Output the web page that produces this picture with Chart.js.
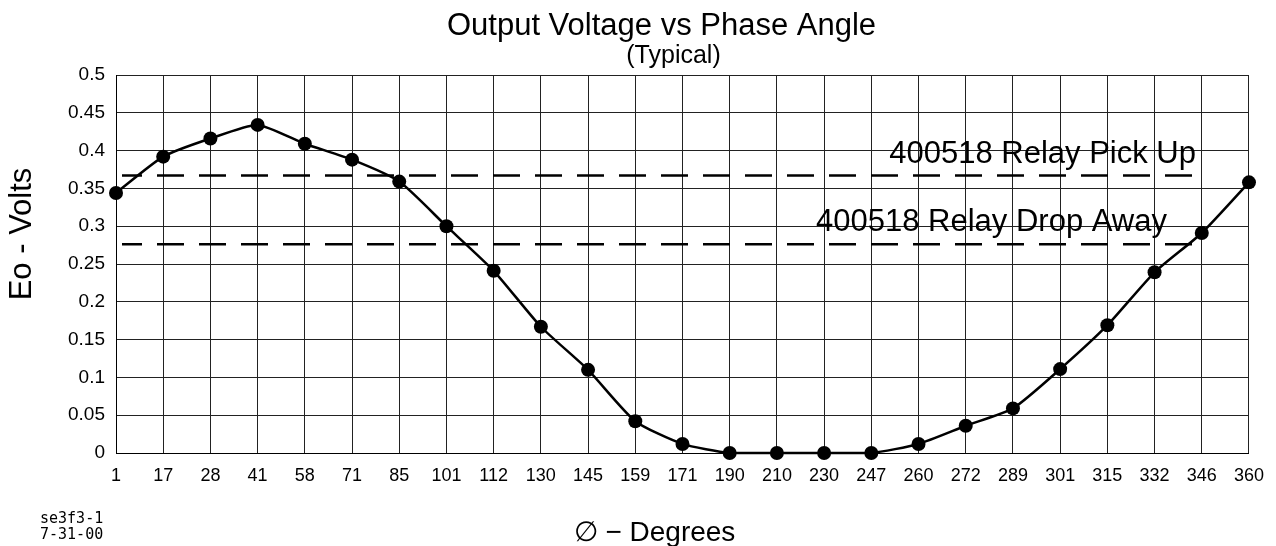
<!DOCTYPE html>
<html><head><meta charset="utf-8">
<script src="https://cdn.jsdelivr.net/npm/chart.js@4.4.0/dist/chart.umd.min.js"></script>
<style>html,body{margin:0;padding:0;background:#fff;} #c{display:block;}</style>
</head><body>
<canvas id="c" width="1276" height="546"></canvas>
<script>
const categories = ['1','17','28','41','58','71','85','101','112','130','145','159','171','190','210','230','247','260','272','289','301','315','332','346','360'];
const voltage = [0.344,0.392,0.416,0.434,0.409,0.388,0.359,0.300,0.241,0.167,0.110,0.042,0.012,0,0,0,0,0.012,0.036,0.059,0.111,0.169,0.239,0.291,0.358];
const yTickLabels = ['0','0.05','0.1','0.15','0.2','0.25','0.3','0.35','0.4','0.45','0.5'];
const thresholdValues = [0.367, 0.276];
const thresholdLabels = ['400518 Relay Pick Up','400518 Relay Drop Away'];
const titleText = 'Output Voltage vs Phase Angle';
const subtitleText = '(Typical)';
const xTitleText = '\u2205 \u2212 Degrees';
const yTitleText = 'Eo - Volts';
const noteLines = ['se3f3-1','7-31-00'];

const FAM = '"Liberation Sans", Arial, Helvetica, sans-serif';

const thresholdPlugin = {
  id: 'thresholds',
  beforeDatasetsDraw(chart) {
    const {ctx, chartArea: a, scales: {y}} = chart;
    ctx.save();
    ctx.strokeStyle = '#000';
    ctx.lineWidth = 2.5;
    ctx.setLineDash([27, 15]);
    ctx.lineDashOffset = 7;
    thresholdValues.forEach(v => {
      const py = y.getPixelForValue(v);
      ctx.beginPath();
      ctx.moveTo(a.left + 6, py);
      ctx.lineTo(a.right - 53, py);
      ctx.stroke();
    });
    ctx.restore();
  },
  afterDraw(chart) {
    const {ctx, chartArea: a, scales: {y}} = chart;
    const mid = (a.left + a.right) / 2;
    ctx.save();
    ctx.fillStyle = '#000';
    // threshold labels
    ctx.font = '31px ' + FAM;
    ctx.textAlign = 'right';
    ctx.textBaseline = 'alphabetic';
    const ends = [a.right - 53, a.right - 82];
    thresholdValues.forEach((v, i) => {
      const py = y.getPixelForValue(v);
      ctx.fillText(thresholdLabels[i], ends[i], py - 13);
    });
    // titles
    ctx.textAlign = 'center';
    ctx.font = '31px ' + FAM;
    ctx.fillText(titleText, mid - 21, 35);
    ctx.font = '25px ' + FAM;
    ctx.fillText(subtitleText, mid - 9, 63);
    ctx.font = '28px ' + FAM;
    ctx.fillText(xTitleText, mid - 28, 541);
    // y axis title
    ctx.save();
    ctx.translate(22, (a.top + a.bottom) / 2 - 30);
    ctx.rotate(-Math.PI / 2);
    ctx.textAlign = 'center';
    ctx.textBaseline = 'middle';
    ctx.font = '31px ' + FAM;
    ctx.fillText(yTitleText, 0, 0);
    ctx.restore();
    // note
    ctx.textAlign = 'left';
    ctx.font = '15px "DejaVu Sans Mono", monospace';
    ctx.fillText(noteLines[0], 40, 523);
    ctx.fillText(noteLines[1], 40, 539);
    ctx.restore();
  }
};

new Chart(document.getElementById('c'), {
  type: 'line',
  data: {
    labels: categories,
    datasets: [{
      data: voltage,
      borderColor: '#000',
      borderWidth: 2.5,
      pointRadius: 7,
      pointHoverRadius: 7,
      pointBackgroundColor: '#000',
      pointBorderColor: '#000',
      pointBorderWidth: 0,
      tension: 0.2,
      clip: false
    }]
  },
  options: {
    responsive: false,
    animation: false,
    events: [],
    layout: { padding: { top: 75, right: 27, bottom: 0, left: 0 } },
    plugins: { legend: { display: false }, tooltip: { enabled: false }, title: { display: false } },
    scales: {
      x: {
        type: 'category',
        ticks: { autoSkip: false, maxRotation: 0, minRotation: 0, padding: 12, color: '#000', font: { family: FAM, size: 18 } },
        grid: { color: '#222', lineWidth: 1, drawTicks: false },
        border: { display: true, color: '#000', width: 1 },
        afterFit(s) { s.height = 93; }
      },
      y: {
        min: 0, max: 0.5,
        ticks: { stepSize: 0.05, padding: 11, color: '#000', font: { family: FAM, size: 19 }, callback: (v, i) => yTickLabels[i] },
        grid: { color: '#222', lineWidth: 1, drawTicks: false },
        border: { display: true, color: '#000', width: 1 },
        afterFit(s) { s.width = 116; }
      }
    }
  },
  plugins: [thresholdPlugin]
});
</script>
</body></html>
